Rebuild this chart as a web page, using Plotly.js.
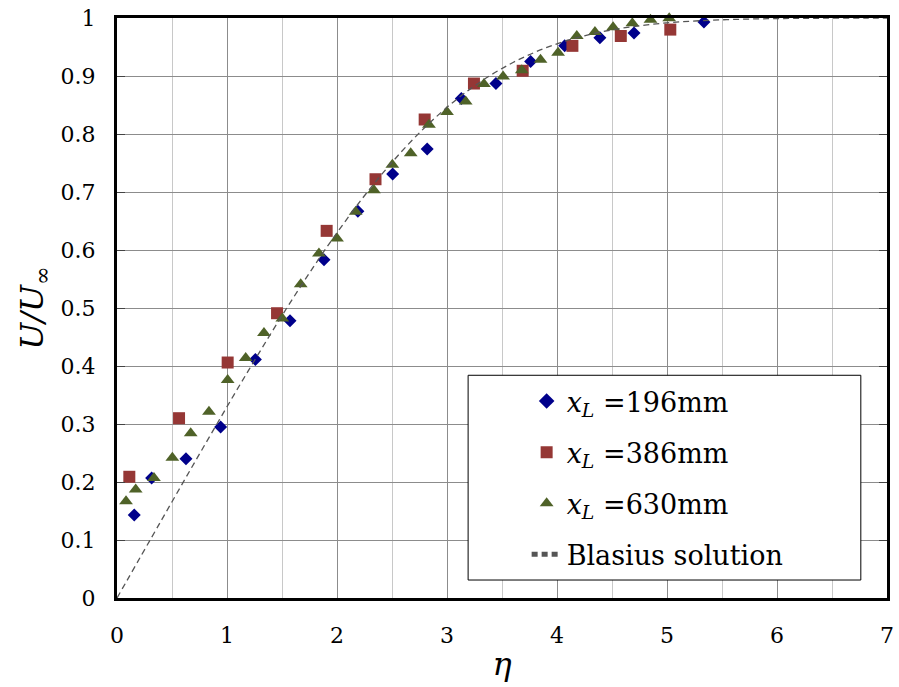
<!DOCTYPE html>
<html>
<head>
<meta charset="utf-8">
<script src="https://cdn.plot.ly/plotly-3.0.1.min.js"></script>
<style>html,body{margin:0;padding:0;background:#fff;}#chart{width:899px;height:687px;}</style>
</head>
<body>
<div id="chart"></div>
<script>
// x_L = 196 mm (diamonds)
const eta196 = [0.157, 0.315, 0.627, 0.942, 1.258, 1.573, 1.882, 2.19, 2.506, 2.82, 3.13, 3.445, 3.76, 4.07, 4.39, 4.70, 5.336];
const u196   = [0.143, 0.207, 0.240, 0.295, 0.411, 0.478, 0.583, 0.667, 0.731, 0.774, 0.861, 0.887, 0.925, 0.952, 0.966, 0.974, 0.993];
// x_L = 386 mm (squares)
const eta386 = [0.112, 0.564, 1.006, 1.455, 1.906, 2.35, 2.797, 3.245, 3.688, 4.14, 4.58, 5.03];
const u386   = [0.209, 0.310, 0.406, 0.491, 0.633, 0.722, 0.825, 0.887, 0.909, 0.952, 0.969, 0.980];
// x_L = 630 mm (triangles)
const eta630 = [0.082, 0.17, 0.336, 0.503, 0.67, 0.836, 1.006, 1.17, 1.336, 1.503, 1.67, 1.836, 2.0, 2.17, 2.336, 2.503, 2.67, 2.836, 3.0, 3.17, 3.336, 3.51, 3.68, 3.85, 4.01, 4.18, 4.345, 4.51, 4.685, 4.85, 5.02];
const u630   = [0.167, 0.187, 0.207, 0.242, 0.284, 0.321, 0.376, 0.414, 0.457, 0.482, 0.541, 0.594, 0.620, 0.666, 0.703, 0.747, 0.767, 0.816, 0.838, 0.856, 0.886, 0.899, 0.910, 0.928, 0.940, 0.969, 0.976, 0.984, 0.991, 0.997, 0.9995];
// Blasius solution (dashed curve)
const etaBlasius = [0, 0.4, 0.8, 1.2, 1.6, 2.0, 2.4, 2.8, 3.2, 3.6, 4.0, 4.4, 4.8, 5.2, 5.6, 6.0, 6.4, 6.8, 7.0];
const uBlasius   = [0, 0.1328, 0.2647, 0.3938, 0.5168, 0.6298, 0.7290, 0.8115, 0.8761, 0.9233, 0.9555, 0.9759, 0.9878, 0.9943, 0.9975, 0.9990, 0.9996, 0.9999, 1.0];

const names = ['<i>x</i><sub><i>L</i></sub> =196mm', '<i>x</i><sub><i>L</i></sub> =386mm', '<i>x</i><sub><i>L</i></sub> =630mm', 'Blasius solution'];

const serif = 'DejaVu Serif, serif';

const traces = [
  {x: eta196, y: u196, name: names[0], mode: 'markers', type: 'scatter', cliponaxis: false, legendgroup: 'a',
   marker: {symbol: 'diamond', size: 10, color: '#00008B'}},
  {x: eta386, y: u386, name: names[1], mode: 'markers', type: 'scatter', cliponaxis: false, legendgroup: 'b',
   marker: {symbol: 'square', size: 12, color: '#953735'}},
  {x: eta630, y: u630, name: names[2], mode: 'markers', type: 'scatter', cliponaxis: false, legendgroup: 'c',
   marker: {symbol: 'triangle-up', size: 12, color: '#4F6228'}},
  {x: etaBlasius, y: uBlasius, name: names[3], mode: 'lines', type: 'scatter', cliponaxis: false, legendgroup: 'd',
   line: {color: '#555555', width: 1.3, dash: '6px,4px', shape: 'spline'}}
];

const layout = {
  width: 899, height: 687,
  margin: {l: 117, r: 12, t: 18, b: 89},
  paper_bgcolor: '#ffffff', plot_bgcolor: '#ffffff',
  font: {family: serif, size: 22, color: '#000'},
  showlegend: true,
  legend: {x: 0.532, y: 0.381, xanchor: 'left', yanchor: 'top', bgcolor: 'rgba(0,0,0,0)',
           borderwidth: 0, font: {family: serif, size: 27, color: '#000'},
           traceorder: 'grouped', tracegroupgap: 13, itemsizing: 'constant'},
  xaxis: {range: [0, 7], dtick: 1, tick0: 0, showgrid: true, gridcolor: '#8c8c8c', gridwidth: 1,
          minor: {dtick: 0.5, showgrid: true, gridcolor: '#c8c8c8', gridwidth: 1},
          zeroline: false, showline: true, mirror: true, linecolor: '#000', linewidth: 3,
          ticks: '', ticklabelstandoff: 16,
          tickfont: {family: serif, size: 22},
          title: {text: '<i>η</i>', font: {family: serif, size: 32}, standoff: 6}},
  yaxis: {range: [0, 1], dtick: 0.1, tick0: 0, showgrid: true, gridcolor: '#8c8c8c', gridwidth: 1,
          zeroline: false, showline: true, mirror: 'allticks', linecolor: '#000', linewidth: 3,
          ticks: 'inside', ticklen: 8, tickwidth: 1, tickcolor: '#444', ticklabelstandoff: 14,
          tickfont: {family: serif, size: 22},
          title: {text: '<i>U/U</i><sub>∞</sub>', font: {family: serif, size: 32}, standoff: 8}},
  shapes: [{type: 'rect', xref: 'paper', yref: 'paper', x0: 0.456, x1: 0.966, y0: 0.031, y1: 0.384,
            fillcolor: '#ffffff', line: {color: '#000', width: 1}, layer: 'above'}]
};

Plotly.newPlot('chart', traces, layout, {displayModeBar: false, staticPlot: true});
</script>
</body>
</html>
